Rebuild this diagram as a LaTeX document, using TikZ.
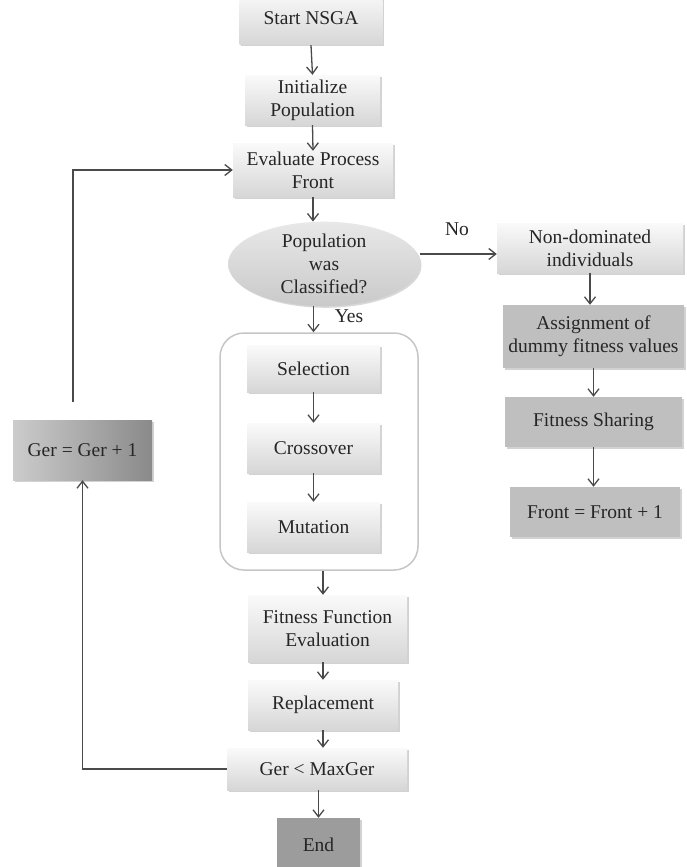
\documentclass[tikz,border=0pt]{standalone}
\usepackage{fontspec}
\setmainfont{Liberation Serif}
\usetikzlibrary{arrows.meta,shapes.geometric,shadows}
\definecolor{txt}{HTML}{262626}
\definecolor{ln}{HTML}{4A4A4A}
\begin{document}
\begin{tikzpicture}[x=1pt,y=-1pt,
  every node/.style={font=\fontsize{19.5}{23}\selectfont, text=txt, align=center, inner sep=0pt},
  lbox/.style={rectangle, top color=gray!4, bottom color=gray!32, draw=none,
    drop shadow={shadow xshift=1.5pt, shadow yshift=-1.5pt, opacity=0.35}},
  dbox/.style={rectangle, fill=gray!50, draw=none,
    drop shadow={shadow xshift=1.5pt, shadow yshift=-1.5pt, opacity=0.35}},
  arr/.style={draw=ln, line width=1.3pt, -{Straight Barb[length=7pt,width=11pt]}},
  plain/.style={draw=ln, line width=1.3pt}
]
\useasboundingbox (0,0) rectangle (687,867);
\fill[white] (0,0) rectangle (687,867);

% main column
\node[lbox, minimum width=143, minimum height=54] (start) at (311,18) {Start NSGA};
\node[lbox, minimum width=135, minimum height=50] (init) at (312.5,100) {Initialize\\Population};
\node[lbox, minimum width=160, minimum height=54] (eval) at (313,170) {Evaluate Process\\Front};
\node[ellipse, top color=gray!18, bottom color=gray!42, draw=none, minimum width=192, minimum height=78,
      drop shadow={shadow xshift=1.5pt, shadow yshift=-1.5pt, opacity=0.3}] (ell) at (324,264) {Population\\was\\Classified?};

% container
\node[draw=gray!45, line width=1.5pt, rounded corners=24pt, minimum width=198, minimum height=237] (cont) at (319,451.5) {};
\node[lbox, minimum width=133, minimum height=47] (sel) at (313.5,368.5) {Selection};
\node[lbox, minimum width=133, minimum height=50] (cross) at (313.5,448) {Crossover};
\node[lbox, minimum width=133, minimum height=50] (mut) at (313.5,527) {Mutation};

\node[lbox, minimum width=159, minimum height=67] (ffe) at (327.5,628.5) {Fitness Function\\Evaluation};
\node[lbox, minimum width=150, minimum height=50] (rep) at (323,705) {Replacement};
\node[lbox, minimum width=180, minimum height=42] (ger) at (317,769) {Ger {\textless} MaxGer};
\node[rectangle, fill=gray!78, draw=none, minimum width=83, minimum height=54,
      drop shadow={shadow xshift=1.5pt, shadow yshift=-1.5pt, opacity=0.35}] (end) at (318.5,845) {End};

% right column
\node[lbox, minimum width=186, minimum height=50] (nondom) at (590,248) {Non-dominated\\individuals};
\node[dbox, minimum width=181, minimum height=63] (assign) at (593.5,336.5) {Assignment of\\dummy fitness values};
\node[dbox, minimum width=177, minimum height=50] (share) at (593.5,422) {Fitness Sharing};
\node[dbox, minimum width=170, minimum height=50] (frontp) at (595,512) {Front = Front + 1};

% left box
\node[rectangle, left color=gray!40, right color=gray!92, draw=none, minimum width=139, minimum height=60,
      drop shadow={shadow xshift=1.5pt, shadow yshift=-1.5pt, opacity=0.35}] (gerinc) at (82.5,450) {Ger = Ger + 1};

% labels
\node (no) at (457,229) {No};
\node (yes) at (349,316) {Yes};

% connectors
\draw[arr] (start.south) -- (init.north);
\draw[arr] (init.south) -- ([yshift=-8pt]eval.north);
\draw[arr] (eval.south) -- (eval.south |- ell.north);
\draw[arr] (ell.south -| sel) -- (cont.north -| sel);
\draw[arr] ([yshift=10pt]ell.east) coordinate (noA) -- (noA -| nondom.west);
\draw[arr] (nondom.south) -- (nondom.south |- assign.north);
\draw[arr] (assign.south -| share) -- (share.north);
\draw[arr] (share.south) -- (share.south |- frontp.north);
\draw[arr] (sel.south) -- (cross.north);
\draw[arr] (cross.south) -- (mut.north);
\draw[arr] (cont.south -| rep) -- (ffe.north -| rep);
\draw[arr] (ffe.south -| rep) -- (rep.north);
\draw[arr] (rep.south) -- (rep.south |- ger.north);
\draw[arr] (ger.south -| end) -- (end.north);
\draw[arr] (ger.west) -| (gerinc.south);
\draw[arr] ([xshift=-9.5pt,yshift=18pt]gerinc.north) |- (eval.west);
\end{tikzpicture}
\end{document}
